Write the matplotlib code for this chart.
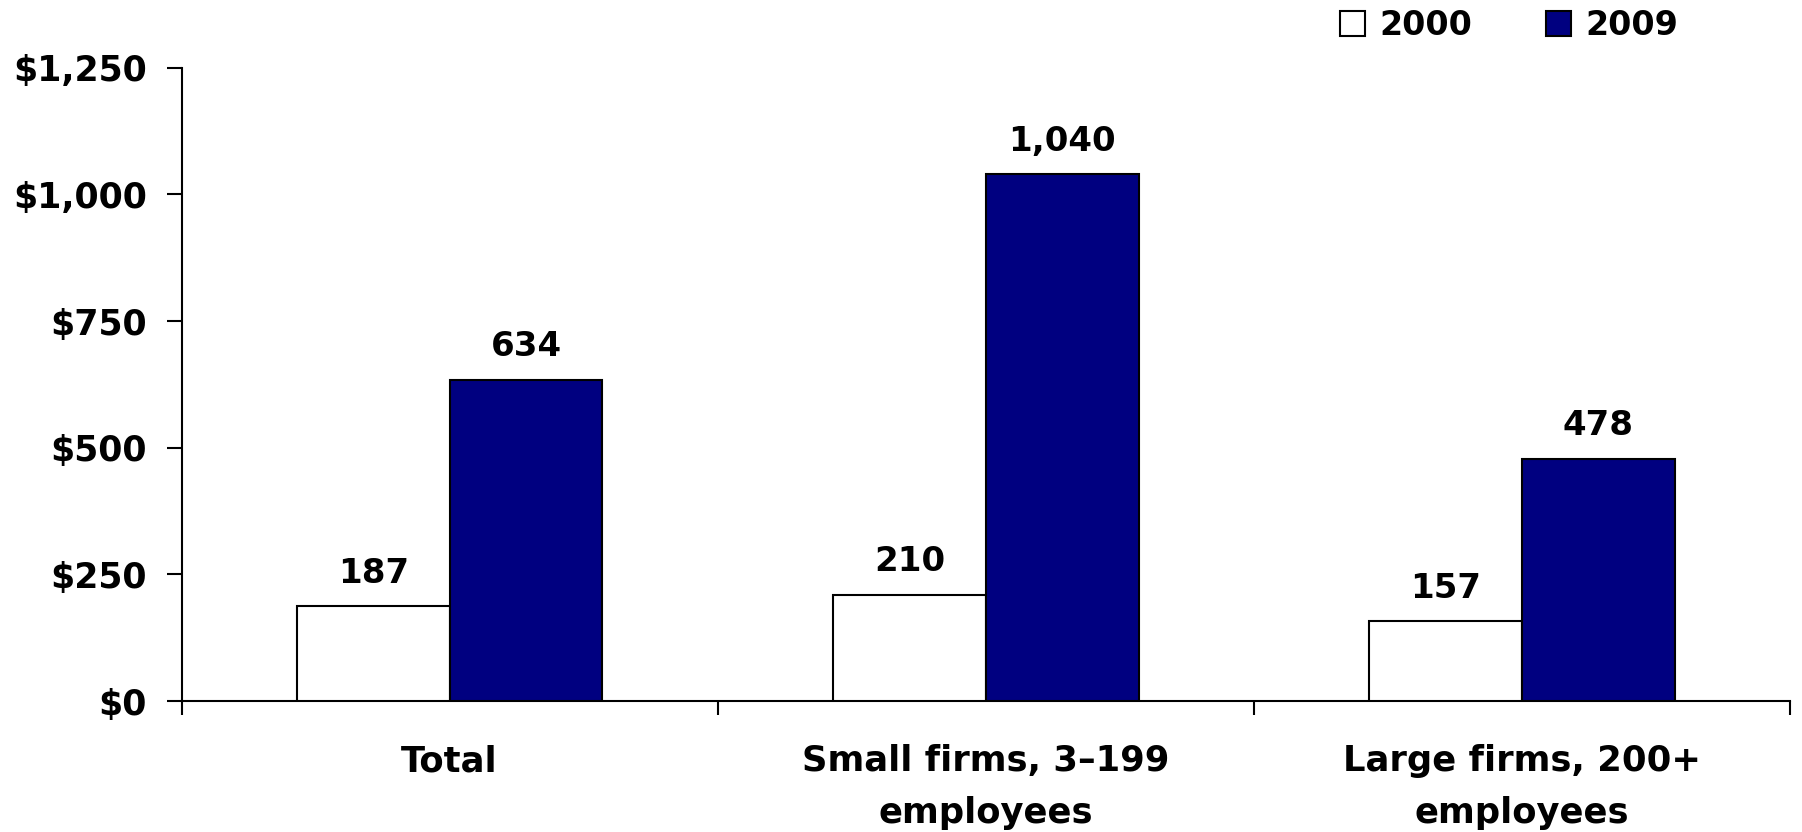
import matplotlib
matplotlib.use("Agg")
import matplotlib.pyplot as plt
from matplotlib.patches import Patch

plt.rcParams['font.family'] = ['DejaVu Sans']
plt.rcParams['font.weight'] = 'bold'

categories = ["Total", "Small firms, 3\u2013199\nemployees", "Large firms, 200+\nemployees"]
series_names = ["2000", "2009"]
values_2000 = [187, 210, 157]
values_2009 = [634, 1040, 478]
y_ticks = [0, 250, 500, 750, 1000, 1250]
y_tick_labels = ["$0", "$250", "$500", "$750", "$1,000", "$1,250"]

NAVY = "#000080"

fig = plt.figure(figsize=(18.02, 8.32), dpi=100)
ax = fig.add_axes([181.6 / 1802, 1 - 701 / 832, (1790 - 181.6) / 1802, (701 - 67.8) / 832])

bar_w = 0.285
x = range(len(categories))
b1 = ax.bar([i - bar_w / 2 for i in x], values_2000, width=bar_w, color="white",
            edgecolor="black", linewidth=1.5, zorder=3)
b2 = ax.bar([i + bar_w / 2 for i in x], values_2009, width=bar_w, color=NAVY,
            edgecolor="black", linewidth=1.5, zorder=3)

for bars, vals in ((b1, values_2000), (b2, values_2009)):
    for rect, v in zip(bars, vals):
        ax.annotate(f"{v:,}", (rect.get_x() + rect.get_width() / 2, v),
                    xytext=(0, 12), textcoords="offset points",
                    ha="center", va="bottom", fontsize=24.5, fontweight="bold")

ax.set_xlim(-0.5, len(categories) - 0.5)
ax.set_ylim(0, 1250)

# category boundaries get tick marks, category centres get the labels
ax.set_xticks([i - 0.5 for i in range(len(categories) + 1)])
ax.set_xticklabels([])
ax.set_xticks(list(x), minor=True)
ax.set_xticklabels(categories, minor=True, fontsize=25.5, fontweight="bold",
                   linespacing=1.65)
ax.tick_params(axis="x", which="major", direction="out", length=10, width=1.5)
ax.tick_params(axis="x", which="minor", length=0, pad=31)

ax.set_yticks(y_ticks)
ax.set_yticklabels(y_tick_labels, fontsize=25, fontweight="bold")
ax.tick_params(axis="y", direction="out", length=11, width=1.5, pad=14)

for side in ("top", "right"):
    ax.spines[side].set_visible(False)
for side in ("left", "bottom"):
    ax.spines[side].set_linewidth(1.5)

handles = [Patch(facecolor="white", edgecolor="black", linewidth=1.5),
           Patch(facecolor=NAVY, edgecolor="black", linewidth=1.5)]
fig.legend(handles, series_names, loc="upper left",
           bbox_to_anchor=(1340 / 1802, 1 - 9 / 832), ncol=2, frameon=False,
           prop={"size": 24, "weight": "bold"}, handlelength=0.76, handleheight=0.76,
           handletextpad=0.42, columnspacing=2.2, borderpad=0, borderaxespad=0)

fig.savefig("out.png", dpi=100)
